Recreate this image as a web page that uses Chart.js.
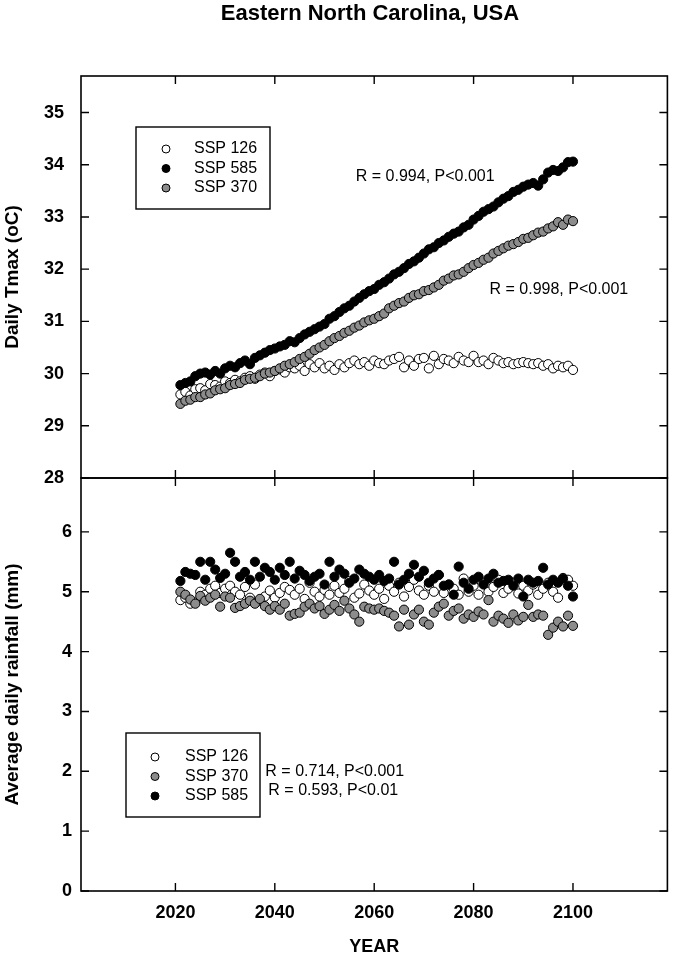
<!DOCTYPE html>
<html>
<head>
<meta charset="utf-8">
<script src="https://cdn.jsdelivr.net/npm/chart.js@4.4.1/dist/chart.umd.min.js"></script>
<style>
html, body { margin: 0; padding: 0; background: #fff; }
#wrap { position: relative; width: 673px; height: 959px; }
canvas { position: absolute; left: 0; }
#tmaxChart { top: 0; }
#rainChart { top: 466px; }
</style>
</head>
<body>
<div id="wrap">
  <canvas id="tmaxChart" width="673" height="490"></canvas>
  <canvas id="rainChart" width="673" height="493"></canvas>
</div>
<script>
let years = [
  2021, 2022, 2023, 2024, 2025, 2026, 2027, 2028, 2029, 2030,
  2031, 2032, 2033, 2034, 2035, 2036, 2037, 2038, 2039, 2040,
  2041, 2042, 2043, 2044, 2045, 2046, 2047, 2048, 2049, 2050,
  2051, 2052, 2053, 2054, 2055, 2056, 2057, 2058, 2059, 2060,
  2061, 2062, 2063, 2064, 2065, 2066, 2067, 2068, 2069, 2070,
  2071, 2072, 2073, 2074, 2075, 2076, 2077, 2078, 2079, 2080,
  2081, 2082, 2083, 2084, 2085, 2086, 2087, 2088, 2089, 2090,
  2091, 2092, 2093, 2094, 2095, 2096, 2097, 2098, 2099, 2100
];

// daily Tmax (oC)
let tmax126 = [
  29.60, 29.65, 29.58, 29.70, 29.72, 29.68, 29.80, 29.78, 29.75, 29.85,
  29.82, 29.88, 29.85, 29.92, 29.95, 29.90, 29.98, 30.02, 29.95, 30.05,
  30.08, 30.02, 30.12, 30.10, 30.15, 30.05, 30.18, 30.12, 30.20, 30.10,
  30.15, 30.07, 30.18, 30.12, 30.20, 30.25, 30.18, 30.22, 30.15, 30.25,
  30.20, 30.18, 30.25, 30.28, 30.32, 30.12, 30.25, 30.15, 30.28, 30.30,
  30.10, 30.34, 30.18, 30.28, 30.25, 30.20, 30.32, 30.25, 30.22, 30.34,
  30.22, 30.25, 30.18, 30.30, 30.25, 30.20, 30.22, 30.18, 30.20, 30.22,
  30.20, 30.18, 30.20, 30.15, 30.18, 30.10, 30.15, 30.12, 30.15, 30.07
];
let tmax585 = [
  29.78, 29.82, 29.85, 29.95, 30.00, 30.02, 29.98, 30.05, 30.00, 30.10,
  30.15, 30.12, 30.20, 30.25, 30.18, 30.30, 30.35, 30.40, 30.45, 30.48,
  30.52, 30.55, 30.62, 30.60, 30.68, 30.75, 30.80, 30.85, 30.90, 30.95,
  31.05, 31.10, 31.18, 31.25, 31.30, 31.38, 31.45, 31.52, 31.58, 31.62,
  31.70, 31.75, 31.82, 31.90, 31.95, 32.02, 32.10, 32.15, 32.22, 32.30,
  32.38, 32.42, 32.50, 32.55, 32.62, 32.68, 32.72, 32.80, 32.85, 32.95,
  33.02, 33.10, 33.15, 33.20, 33.28, 33.35, 33.40, 33.48, 33.52, 33.58,
  33.62, 33.65, 33.60, 33.72, 33.85, 33.90, 33.88, 33.95, 34.05, 34.06
];
let tmax370 = [
  29.42, 29.48, 29.50, 29.55, 29.55, 29.60, 29.62, 29.68, 29.70, 29.72,
  29.78, 29.80, 29.82, 29.88, 29.90, 29.92, 29.95, 30.00, 30.02, 30.05,
  30.10, 30.15, 30.18, 30.22, 30.28, 30.32, 30.38, 30.45, 30.50, 30.55,
  30.62, 30.68, 30.72, 30.78, 30.82, 30.88, 30.92, 30.98, 31.02, 31.05,
  31.10, 31.15, 31.25, 31.30, 31.35, 31.38, 31.45, 31.50, 31.52, 31.58,
  31.60, 31.65, 31.70, 31.78, 31.82, 31.88, 31.90, 31.95, 32.02, 32.08,
  32.12, 32.18, 32.22, 32.30, 32.35, 32.40, 32.45, 32.48, 32.52, 32.58,
  32.60, 32.65, 32.70, 32.72, 32.78, 32.82, 32.90, 32.85, 32.95, 32.92
];

// average daily rainfall (mm)
let rain126 = [
  4.86, 4.90, 4.80, 4.82, 5.00, 4.95, 5.05, 5.10, 4.98, 5.05,
  5.10, 5.00, 4.95, 5.08, 4.90, 5.12, 4.85, 4.92, 5.02, 4.90,
  4.98, 5.08, 5.03, 4.95, 5.05, 4.88, 5.15, 5.00, 4.92, 5.03,
  4.95, 5.10, 4.98, 5.05, 5.18, 4.90, 4.97, 5.12, 5.02, 4.95,
  5.05, 4.88, 5.10, 5.00, 5.15, 4.92, 5.08, 5.20, 5.02, 4.95,
  5.10, 5.00, 5.28, 4.98, 5.12, 5.05, 4.95, 5.22, 5.00, 5.10,
  4.95, 5.15, 5.00, 5.08, 5.20, 4.98, 5.05, 5.15, 4.97, 5.10,
  5.02, 5.12, 4.95, 5.05, 5.15, 5.00, 4.90, 5.23, 5.20, 5.10
];
let rain370 = [
  5.00, 4.95, 4.87, 4.80, 4.93, 4.85, 4.90, 4.95, 4.75, 4.92,
  4.90, 4.73, 4.76, 4.80, 4.85, 4.80, 4.88, 4.76, 4.70, 4.76,
  4.70, 4.80, 4.60, 4.63, 4.65, 4.75, 4.80, 4.72, 4.76, 4.63,
  4.70, 4.78, 4.68, 4.85, 4.72, 4.62, 4.50, 4.75, 4.72, 4.70,
  4.72, 4.68, 4.65, 4.60, 4.42, 4.70, 4.45, 4.62, 4.70, 4.50,
  4.45, 4.65, 4.75, 4.80, 4.60, 4.68, 4.72, 4.55, 4.62, 4.58,
  4.67, 4.62, 4.86, 4.50, 4.60, 4.55, 4.48, 4.62, 4.52, 4.58,
  4.78, 4.58, 4.62, 4.60, 4.28, 4.40, 4.50, 4.42, 4.60, 4.43
];
let rain585 = [
  5.18, 5.33, 5.30, 5.28, 5.50, 5.20, 5.50, 5.37, 5.23, 5.30,
  5.65, 5.50, 5.25, 5.33, 5.20, 5.50, 5.25, 5.40, 5.33, 5.20,
  5.40, 5.28, 5.50, 5.22, 5.35, 5.28, 5.18, 5.25, 5.30, 5.12,
  5.50, 5.25, 5.37, 5.30, 5.15, 5.22, 5.37, 5.30, 5.25, 5.20,
  5.28, 5.18, 5.22, 5.50, 5.12, 5.20, 5.30, 5.45, 5.25, 5.35,
  5.15, 5.22, 5.28, 5.10, 5.12, 4.95, 5.42, 5.15, 5.05, 5.20,
  5.25, 5.12, 5.22, 5.30, 5.15, 5.18, 5.20, 5.10, 5.22, 4.92,
  5.20, 5.15, 5.18, 5.40, 5.12, 5.20, 5.15, 5.22, 5.10, 4.92
];

let xTicks = [2020, 2040, 2060, 2080, 2100];
let tmaxTicks = [28, 29, 30, 31, 32, 33, 34, 35];
let rainTicks = [0, 1, 2, 3, 4, 5, 6];

const FONT = "'Liberation Sans', Arial, Helvetica, sans-serif";
const WHITE = '#ffffff', BLACK = '#000000', GREY = '#8c8c8c';

function pts(vals) {
  return vals.map((v, i) => ({ x: years[i], y: v }));
}

function series(label, vals, fill, order) {
  return {
    label: label,
    data: pts(vals),
    backgroundColor: fill,
    borderColor: BLACK,
    pointBackgroundColor: fill,
    pointBorderColor: BLACK,
    pointBorderWidth: 1,
    pointRadius: 4.6,
    pointHoverRadius: 4.6,
    showLine: false,
    order: order
  };
}

// box around plot area + inward tick marks on all four sides
const framePlugin = {
  id: 'frame',
  afterDraw(chart, args, opts) {
    const { ctx, chartArea: a, scales } = chart;
    ctx.save();
    ctx.strokeStyle = BLACK;
    ctx.lineWidth = 1.6;
    ctx.strokeRect(a.left, a.top, a.right - a.left, a.bottom - a.top);
    ctx.lineWidth = 1.4;
    ctx.beginPath();
    xTicks.forEach(v => {
      const px = scales.x.getPixelForValue(v);
      ctx.moveTo(px, a.top); ctx.lineTo(px, a.top + 8);
      ctx.moveTo(px, a.bottom); ctx.lineTo(px, a.bottom - 8);
    });
    opts.yTicks.forEach(v => {
      const py = scales.y.getPixelForValue(v);
      ctx.moveTo(a.left, py); ctx.lineTo(a.left + 8, py);
      ctx.moveTo(a.right, py); ctx.lineTo(a.right - 8, py);
    });
    ctx.stroke();
    ctx.restore();
  }
};

// legend box, R/P notes and title
const notesPlugin = {
  id: 'notes',
  afterDraw(chart, args, opts) {
    const { ctx, scales } = chart;
    ctx.save();
    const b = opts.box;
    ctx.fillStyle = WHITE;
    ctx.fillRect(b.x, b.y, b.w, b.h);
    ctx.strokeStyle = BLACK;
    ctx.lineWidth = 1.4;
    ctx.strokeRect(b.x, b.y, b.w, b.h);
    ctx.font = '16px ' + FONT;
    ctx.textBaseline = 'middle';
    ctx.textAlign = 'left';
    chart.data.datasets.forEach((ds, i) => {
      const y = b.y + b.first + i * b.step;
      ctx.beginPath();
      ctx.arc(b.markerX, y, 4, 0, Math.PI * 2);
      ctx.fillStyle = ds.backgroundColor;
      ctx.fill();
      ctx.lineWidth = 1;
      ctx.strokeStyle = BLACK;
      ctx.stroke();
      ctx.fillStyle = BLACK;
      ctx.fillText(ds.label, b.textX, y);
    });
    opts.notes.forEach(n => {
      ctx.fillText(n.text, scales.x.getPixelForValue(n.x), scales.y.getPixelForValue(n.y));
    });
    if (opts.title) {
      ctx.font = 'bold 22px ' + FONT;
      ctx.textAlign = 'center';
      ctx.fillText(opts.title.text, opts.title.x, opts.title.y);
    }
    ctx.restore();
  }
};

function yAxis(min, max, ticks, title, pad) {
  return {
    type: 'linear',
    min: min,
    max: max,
    afterBuildTicks: s => { s.ticks = ticks.map(v => ({ value: v })); },
    afterFit: s => { s.width = 81; s.paddingTop = 0; s.paddingBottom = 0; },
    grid: { display: false, drawTicks: false },
    border: { display: false },
    ticks: {
      padding: pad,
      color: BLACK,
      font: { family: FONT, size: 18, weight: 'bold' },
      callback: v => String(v)
    },
    title: {
      display: true,
      text: title,
      color: BLACK,
      font: { family: FONT, size: 19, weight: 'bold' },
      padding: { top: 1, bottom: 0 }
    }
  };
}

Chart.defaults.animation = false;
Chart.defaults.plugins.legend.display = false;
Chart.defaults.plugins.tooltip.enabled = false;

new Chart(document.getElementById('tmaxChart').getContext('2d'), {
  type: 'scatter',
  data: {
    datasets: [
      series('SSP 126', tmax126, WHITE, 3),
      series('SSP 585', tmax585, BLACK, 2),
      series('SSP 370', tmax370, GREY, 1)
    ]
  },
  options: {
    responsive: false,
    devicePixelRatio: 1,
    layout: { padding: { top: 76, right: 4, bottom: 12, left: 0 } },
    scales: {
      x: { type: 'linear', min: 2001, max: 2119, display: false },
      y: yAxis(28, 35.7, tmaxTicks, 'Daily Tmax (oC)', 17)
    },
    plugins: {
      frame: { yTicks: tmaxTicks },
      notes: {
        box: { x: 136, y: 127, w: 134, h: 82, first: 22, step: 19.5, markerX: 166, textX: 194 },
        notes: [
          { text: 'R = 0.994, P<0.001', x: 2056.3, y: 33.77 },
          { text: 'R = 0.998, P<0.001', x: 2083.2, y: 31.6 }
        ],
        title: { text: 'Eastern North Carolina, USA', x: 370, y: 14 }
      }
    }
  },
  plugins: [framePlugin, notesPlugin]
});

new Chart(document.getElementById('rainChart').getContext('2d'), {
  type: 'scatter',
  data: {
    datasets: [
      series('SSP 126', rain126, WHITE, 3),
      series('SSP 370', rain370, GREY, 2),
      series('SSP 585', rain585, BLACK, 1)
    ]
  },
  options: {
    responsive: false,
    devicePixelRatio: 1,
    layout: { padding: { top: 12, right: 4, bottom: 0, left: 0 } },
    scales: {
      x: {
        type: 'linear',
        min: 2001,
        max: 2119,
        afterBuildTicks: s => { s.ticks = xTicks.map(v => ({ value: v })); },
        afterFit: s => { s.height = 68; s.paddingLeft = 0; s.paddingRight = 0; },
        grid: { display: false, drawTicks: false },
        border: { display: false },
        ticks: {
          padding: 11,
          color: BLACK,
          autoSkip: false,
          maxRotation: 0,
          font: { family: FONT, size: 18, weight: 'bold' },
          callback: v => String(v)
        },
        title: {
          display: true,
          text: 'YEAR',
          color: BLACK,
          font: { family: FONT, size: 18, weight: 'bold' },
          padding: { top: 0, bottom: 1 }
        }
      },
      y: yAxis(0, 6.9, rainTicks, 'Average daily rainfall (mm)', 9)
    },
    plugins: {
      frame: { yTicks: rainTicks },
      notes: {
        box: { x: 126, y: 267, w: 134, h: 84, first: 24, step: 19.5, markerX: 155, textX: 185 },
        notes: [
          { text: 'R = 0.714, P<0.001', x: 2038.1, y: 2.0 },
          { text: 'R = 0.593, P<0.01', x: 2038.7, y: 1.67 }
        ]
      }
    }
  },
  plugins: [framePlugin, notesPlugin]
});
</script>
</body>
</html>
